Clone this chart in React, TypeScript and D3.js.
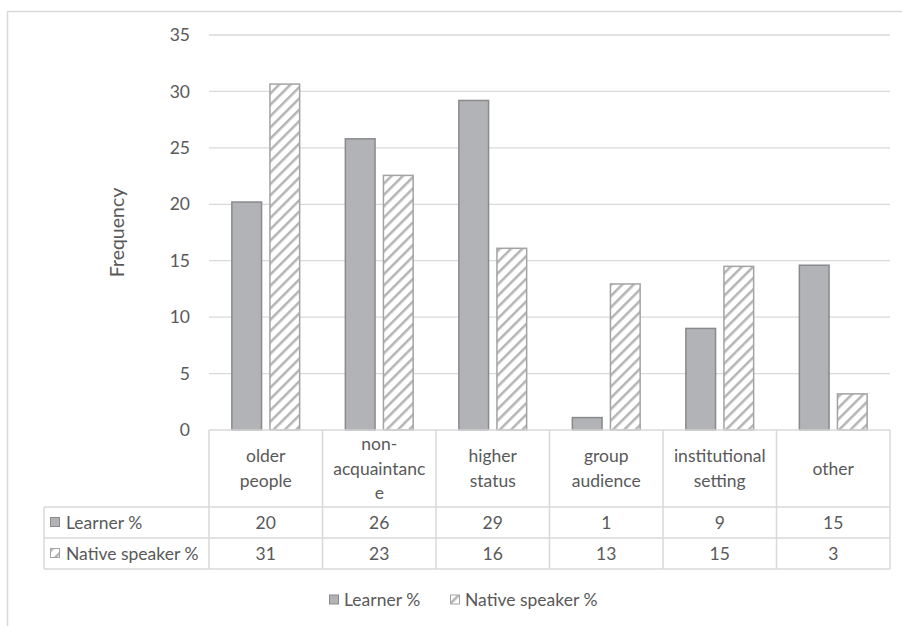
import React, { useEffect, useRef } from 'react';
import * as d3 from 'd3';

const categories = ['older people', 'non-acquaintance', 'higher status', 'group audience', 'institutional setting', 'other'];
const categoryLines = [
  ['older', 'people'],
  ['non-', 'acquaintanc', 'e'],
  ['higher', 'status'],
  ['group', 'audience'],
  ['institutional', 'setting'],
  ['other'],
];
const learner = [20.2, 25.8, 29.2, 1.1, 9.0, 14.6];
const native = [30.65, 22.56, 16.1, 12.94, 14.5, 3.2];
const seriesNames = ['Learner %', 'Native speaker %'];
const yTicks = [0, 5, 10, 15, 20, 25, 30, 35];

const W = 902;
const H = 626;
const FONT = 'Lato, "Open Sans", sans-serif';
const TEXT = '#595959';
const GRID = '#d9d9d9';
const FS = 17.5;

const App: React.FC = () => {
  const svgRef = useRef<SVGSVGElement>(null);

  useEffect(() => {
    const svg = d3.select(svgRef.current);
    svg.selectAll('*').remove();

    const plot = { left: 209, right: 890, top: 35, bottom: 430 };

    // hatch pattern
    const defs = svg.append('defs');
    const pat = defs.append('pattern')
      .attr('id', 'hatch')
      .attr('patternUnits', 'userSpaceOnUse')
      .attr('width', 8)
      .attr('height', 8)
      .attr('patternTransform', 'rotate(45)');
    pat.append('rect').attr('width', 8).attr('height', 8).attr('fill', '#fff');
    pat.append('line')
      .attr('x1', 0).attr('y1', 0).attr('x2', 0).attr('y2', 8)
      .attr('stroke', '#b4b4b4').attr('stroke-width', 5);

    // outer frame
    svg.append('rect')
      .attr('x', 7.5).attr('y', 11.5)
      .attr('width', 905).attr('height', 640)
      .attr('fill', '#fff')
      .attr('stroke', GRID)
      .attr('stroke-width', 1.5);

    const x = d3.scaleBand<string>()
      .domain(categories)
      .range([plot.left, plot.right]);

    const xInner = d3.scaleBand<string>()
      .domain(seriesNames)
      .range([0, x.bandwidth()])
      .paddingInner(0.22)
      .paddingOuter(0.6);

    const y = d3.scaleLinear()
      .domain([0, 35])
      .range([plot.bottom, plot.top]);

    // gridlines
    svg.append('g')
      .selectAll('line')
      .data(yTicks.filter(t => t > 0))
      .enter().append('line')
      .attr('x1', plot.left)
      .attr('x2', plot.right)
      .attr('y1', d => y(d))
      .attr('y2', d => y(d))
      .attr('stroke', GRID)
      .attr('stroke-width', 1.3);

    // y tick labels
    svg.append('g')
      .selectAll('text')
      .data(yTicks)
      .enter().append('text')
      .attr('x', 190)
      .attr('y', d => y(d))
      .attr('dy', '0.35em')
      .attr('text-anchor', 'end')
      .attr('fill', TEXT)
      .attr('font-family', FONT)
      .attr('font-size', FS)
      .text(d => d);

    // y axis label
    svg.append('text')
      .attr('transform', `translate(124,${(plot.top + plot.bottom) / 2}) rotate(-90)`)
      .attr('text-anchor', 'middle')
      .attr('fill', TEXT)
      .attr('font-family', FONT)
      .attr('font-size', 19.5)
      .text('Frequency');

    const series = [
      { name: seriesNames[0], values: learner, fill: '#b2b3b6', stroke: '#8a8a8d' },
      { name: seriesNames[1], values: native, fill: 'url(#hatch)', stroke: '#a3a3a3' },
    ];

    // bars
    series.forEach(s => {
      svg.append('g')
        .selectAll('rect')
        .data(s.values)
        .enter().append('rect')
        .attr('x', (_d, i) => (x(categories[i]) as number) + (xInner(s.name) as number))
        .attr('y', d => y(d))
        .attr('width', xInner.bandwidth())
        .attr('height', d => y(0) - y(d))
        .attr('fill', s.fill)
        .attr('stroke', s.stroke)
        .attr('stroke-width', 1.5);
    });

    // data table
    const tableLeft = 44;
    const headerBottom = 507;
    const row1Bottom = 538;
    const row2Bottom = 569;
    const tg = svg.append('g');
    const line = (x1: number, y1: number, x2: number, y2: number) =>
      tg.append('line')
        .attr('x1', x1).attr('y1', y1).attr('x2', x2).attr('y2', y2)
        .attr('stroke', GRID).attr('stroke-width', 1.5);

    line(plot.left, plot.bottom, plot.right, plot.bottom);
    line(tableLeft, headerBottom, plot.right, headerBottom);
    line(tableLeft, row1Bottom, plot.right, row1Bottom);
    line(tableLeft, row2Bottom, plot.right, row2Bottom);
    line(tableLeft, headerBottom, tableLeft, row2Bottom);
    categories.forEach(c => {
      line(x(c) as number, plot.bottom, x(c) as number, row2Bottom);
    });
    line(plot.right, plot.bottom, plot.right, row2Bottom);

    // category labels
    categories.forEach((c, i) => {
      const lines = categoryLines[i];
      const cx = (x(c) as number) + x.bandwidth() / 2;
      const cy = (plot.bottom + headerBottom) / 2;
      const lh = 24.5;
      const t = tg.append('text')
        .attr('text-anchor', 'middle')
        .attr('fill', TEXT)
        .attr('font-family', FONT)
        .attr('font-size', FS);
      lines.forEach((l, j) => {
        t.append('tspan')
          .attr('x', cx)
          .attr('y', cy + (j - (lines.length - 1) / 2) * lh)
          .attr('dy', '0.35em')
          .text(l);
      });
    });

    // value rows
    const rows = [
      { s: series[0], cy: (headerBottom + row1Bottom) / 2 },
      { s: series[1], cy: (row1Bottom + row2Bottom) / 2 },
    ];
    rows.forEach(r => {
      tg.append('rect')
        .attr('x', 50.5).attr('y', r.cy - 5)
        .attr('width', 9).attr('height', 9)
        .attr('fill', r.s.fill)
        .attr('stroke', r.s.stroke)
        .attr('stroke-width', 1);
      tg.append('text')
        .attr('x', 66)
        .attr('y', r.cy)
        .attr('dy', '0.35em')
        .attr('fill', TEXT)
        .attr('font-family', FONT)
        .attr('font-size', FS)
        .text(r.s.name);
      r.s.values.forEach((v, i) => {
        tg.append('text')
          .attr('x', (x(categories[i]) as number) + x.bandwidth() / 2)
          .attr('y', r.cy)
          .attr('dy', '0.35em')
          .attr('text-anchor', 'middle')
          .attr('fill', TEXT)
          .attr('font-family', FONT)
          .attr('font-size', FS)
          .text(Math.round(v));
      });
    });

    // legend
    const legendY = 600;
    const lg = svg.append('g');
    const legendX = [329, 450];
    series.forEach((s, i) => {
      lg.append('rect')
        .attr('x', legendX[i] + 0.5).attr('y', legendY - 5)
        .attr('width', 9).attr('height', 9)
        .attr('fill', s.fill)
        .attr('stroke', s.stroke)
        .attr('stroke-width', 1);
      lg.append('text')
        .attr('x', legendX[i] + 15)
        .attr('y', legendY)
        .attr('dy', '0.35em')
        .attr('fill', TEXT)
        .attr('font-family', FONT)
        .attr('font-size', FS)
        .text(s.name);
    });
  }, []);

  return (
    <div style={{ position: 'absolute', left: 0, top: 0 }}>
      <svg ref={svgRef} width={W} height={H} style={{ display: 'block' }}></svg>
    </div>
  );
};

export default App;
